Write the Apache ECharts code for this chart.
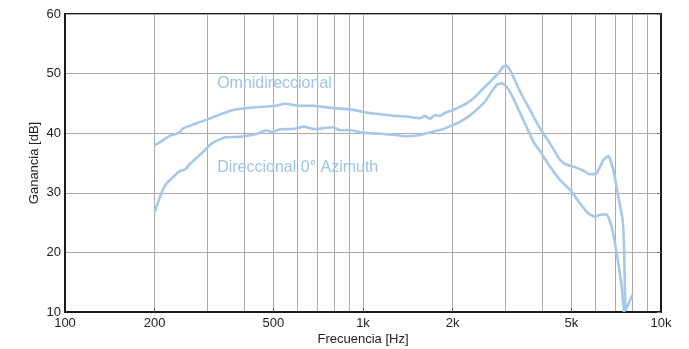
<!DOCTYPE html>
<html><head><meta charset="utf-8">
<script src="https://cdn.jsdelivr.net/npm/echarts@6/dist/echarts.min.js"></script>
<style>html,body{margin:0;padding:0;background:#fff}#c{width:689px;height:349px}</style>
</head><body><div id="c"></div>
<script>
const omniFreq = [200,210,225,240,249,270,300,330,366,407,450,500,550,607,681,795,904,1000,1083,1264,1400,1553,1615,1678,1744,1812,1884,2010,2116,2228,2376,2533,2703,2845,2957,3034,3155,3365,3635,3926,4242,4582,4827,5080,5488,5777,6083,6404,6657,6920,7190,7436,7520,7600,7700,8050];
const omniGain = [38.0,38.6,39.6,40.0,40.8,41.5,42.3,43.1,43.9,44.2,44.4,44.55,44.95,44.6,44.6,44.2,44.0,43.6,43.3,42.94,42.8,42.5,42.9,42.4,43.05,42.9,43.4,43.9,44.45,45.0,46.1,47.5,48.9,50.05,51.2,51.3,50.05,47.0,43.9,40.8,38.3,35.5,34.7,34.4,33.7,33.1,33.3,35.5,36.2,33.8,29.35,25.4,20.4,10.3,10.9,13.0];
const dirFreq = [200,209,217,231,243,253,263,287,311,344,387,440,475,494,527,584,634,681,795,837,904,1000,1140,1230,1400,1553,1636,1767,1860,2010,2116,2287,2376,2567,2703,2810,2920,3034,3195,3409,3729,3926,4242,4582,5015,5348,5704,6005,6240,6560,6832,7100,7381,7512];
const dirGain = [26.8,29.5,31.3,32.7,33.65,33.9,34.9,36.6,38.3,39.3,39.4,39.87,40.5,40.15,40.65,40.7,41.1,40.7,41.0,40.5,40.5,40.1,39.9,39.8,39.5,39.7,40.0,40.4,40.7,41.4,41.9,43.0,43.7,45.3,47.0,48.1,48.4,47.8,45.85,42.8,38.6,37.0,34.4,32.15,30.2,28.2,26.55,26.0,26.3,26.4,24.3,19.85,14.2,10.0];

const gridFreqs = [200,300,400,500,600,700,800,900,1000,2000,3000,4000,5000,6000,7000,8000,9000];
const labelFreqs = [100,200,500,1000,2000,5000,10000];
const tickFreqs = [200,500,1000,2000,5000];
const yTicks = [10,20,30,40,50,60];
const seriesNames = ['Omnidireccional','Direccional 0° Azimuth'];
const annotPos = [[324,48.25],[324,34.2]];

const FONT = 'Liberation Sans, Arial, Helvetica, sans-serif';
const LINE = '#a6c8ea';
const TXT = '#9fc4e6';
function fmtHz(v){ return v >= 1000 ? (v/1000) + 'k' : String(v); }
function pairs(f,g){ return f.map((x,i)=>[x,g[i]]); }

const chart = echarts.init(document.getElementById('c'), null, {renderer:'canvas'});
const option = {
  animation:false,
  backgroundColor:'#fff',
  grid:{left:65,right:28,top:14,bottom:37,outerBoundsMode:'none',containLabel:false,show:true,borderColor:'#1a1a1a',borderWidth:2,backgroundColor:'transparent'},
  xAxis:[{
    type:'log',logBase:10,min:100,max:10000,position:'bottom',
    name:'Frecuencia [Hz]',nameLocation:'middle',nameGap:21,nameMoveOverlap:false,
    nameTextStyle:{fontFamily:FONT,fontSize:13,color:'#222'},
    axisLine:{show:true,lineStyle:{color:'#1a1a1a',width:2}},
    axisTick:{show:false,customValues:gridFreqs},
    axisLabel:{customValues:labelFreqs,formatter:fmtHz,fontFamily:FONT,fontSize:13,color:'#222',margin:5},
    splitLine:{show:true,lineStyle:{color:'#aaaaaa',width:1}},
    minorSplitLine:{show:false}
  },{
    type:'log',logBase:10,min:100,max:10000,position:'bottom',
    axisLine:{show:false},
    axisTick:{show:true,inside:true,length:4,customValues:tickFreqs,lineStyle:{color:'#555',width:1}},
    axisLabel:{show:false},splitLine:{show:false}
  }],
  yAxis:[{
    type:'value',min:10,max:60,interval:10,
    name:'Ganancia [dB]',nameLocation:'middle',nameGap:24,nameMoveOverlap:false,
    nameTextStyle:{fontFamily:FONT,fontSize:13,color:'#222'},
    axisLine:{show:true,lineStyle:{color:'#1a1a1a',width:2}},
    axisTick:{show:false},
    axisLabel:{fontFamily:FONT,fontSize:13,color:'#222',margin:4,customValues:yTicks},
    splitLine:{show:true,lineStyle:{color:'#aaaaaa',width:1}}
  },{
    type:'value',min:10,max:60,interval:10,position:'right',
    axisLine:{show:false},
    axisTick:{show:true,inside:true,length:4,lineStyle:{color:'#777',width:1}},
    axisLabel:{show:false},splitLine:{show:false}
  }],
  series:[
    {name:seriesNames[0],type:'line',xAxisIndex:0,yAxisIndex:0,data:pairs(omniFreq,omniGain),showSymbol:false,clip:true,
     lineStyle:{color:LINE,width:2.6},smooth:0.15},
    {name:seriesNames[1],type:'line',xAxisIndex:0,yAxisIndex:0,data:pairs(dirFreq,dirGain),showSymbol:false,clip:true,
     lineStyle:{color:LINE,width:2.6},smooth:0.15}
  ]
};
chart.setOption(option);
const graphics = seriesNames.map((n,i)=>{
  const p = chart.convertToPixel({xAxisIndex:0,yAxisIndex:0}, annotPos[i]);
  return {type:'text',x:p[0],y:p[1],style:{text:n,fill:TXT,font:'16px '+FONT,textVerticalAlign:'middle',textAlign:'left'}};
});
chart.setOption({graphic:graphics});
</script></body></html>
